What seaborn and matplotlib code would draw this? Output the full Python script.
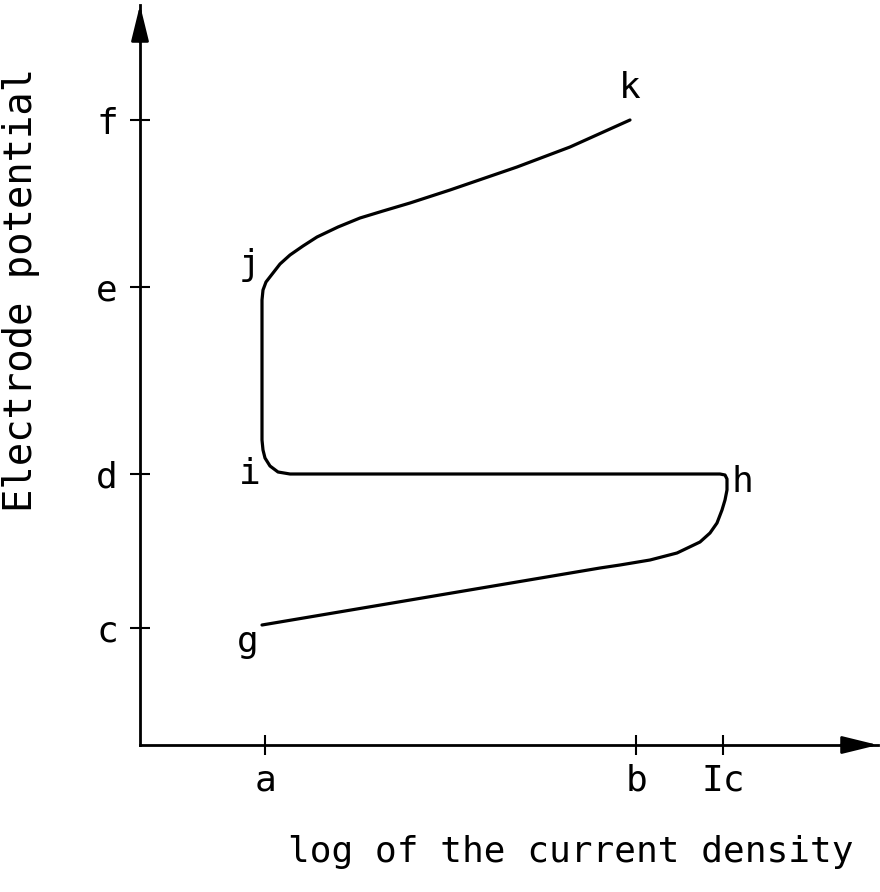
import matplotlib
matplotlib.use("Agg")
import matplotlib.pyplot as plt
import seaborn as sns
import pandas as pd

# ---- data (arbitrary units: current density log, electrode potential) ----
x_tick_pos = [1.25, 4.96, 5.83]
x_tick_labels = ["a", "b", "Ic"]
y_tick_pos = [1.17, 2.71, 4.58, 6.25]
y_tick_labels = ["c", "d", "e", "f"]

curve_x = [1.22, 4.60, 4.80, 5.10, 5.37, 5.60, 5.70, 5.77, 5.82, 5.85, 5.87, 5.87,
           5.85, 5.80, 1.50, 1.38, 1.30, 1.25, 1.23, 1.22, 1.22, 1.23, 1.26, 1.33,
           1.40, 1.50, 1.63, 1.77, 1.98, 2.20, 2.43, 2.70, 3.10, 3.77, 4.30, 4.90]
curve_y = [1.20, 1.77, 1.80, 1.85, 1.92, 2.03, 2.12, 2.22, 2.35, 2.45, 2.55, 2.66,
           2.70, 2.71, 2.71, 2.73, 2.79, 2.87, 2.95, 3.05, 4.45, 4.55, 4.63, 4.72,
           4.81, 4.90, 4.99, 5.08, 5.18, 5.27, 5.34, 5.42, 5.55, 5.78, 5.98, 6.25]

point_labels = ["k", "j", "i", "h", "g"]
point_x = [4.90, 1.10, 1.10, 6.02, 1.08]
point_y = [6.57, 4.80, 2.71, 2.63, 1.03]

sns.set_style("white")
plt.rcParams["font.family"] = ["DejaVu Sans Mono", "DejaVu Sans"]

fig = plt.figure(figsize=(8.8, 8.92), dpi=100)
ax = fig.add_axes([140 / 880, 147 / 892, 738 / 880, 740 / 892])

df = pd.DataFrame({"x": curve_x, "y": curve_y})
sns.lineplot(data=df, x="x", y="y", sort=False, estimator=None,
             color="black", linewidth=2.3, ax=ax)

ax.set_xlim(0, 7.38)
ax.set_ylim(0, 7.40)

for s in ["top", "right"]:
    ax.spines[s].set_visible(False)
for s in ["left", "bottom"]:
    ax.spines[s].set_color("black")
    ax.spines[s].set_linewidth(2.0)

ax.set_xticks(x_tick_pos)
ax.set_xticklabels(x_tick_labels)
ax.set_yticks(y_tick_pos)
ax.set_yticklabels(y_tick_labels)
ax.tick_params(axis="both", direction="inout", length=14, width=1.5,
               colors="black", labelsize=26, bottom=True, left=True)
ax.tick_params(axis="x", pad=6)
ax.tick_params(axis="y", pad=9)

# arrow heads at ends of axes
arrow_kw = dict(arrowstyle="-|>,head_length=1.1,head_width=0.27",
                mutation_scale=20, color="black", lw=2.0,
                shrinkA=0, shrinkB=0)
ax.annotate("", xy=(0, 1.0), xytext=(0, 0.95), xycoords="axes fraction",
            arrowprops=arrow_kw, annotation_clip=False)
ax.annotate("", xy=(1.0, 0), xytext=(0.95, 0), xycoords="axes fraction",
            arrowprops=arrow_kw, annotation_clip=False)

for lab, px, py in zip(point_labels, point_x, point_y):
    ax.text(px, py, lab, fontsize=26, ha="center", va="center", color="black")

ax.set_xlabel("log of the current density", fontsize=26, color="black")
ax.xaxis.set_label_coords(0.584, -0.122)
ax.set_ylabel("Electrode potential", fontsize=28, color="black")
ax.yaxis.set_label_coords(-0.1355, 0.615)

fig.savefig("out.png", dpi=100, facecolor="white")
